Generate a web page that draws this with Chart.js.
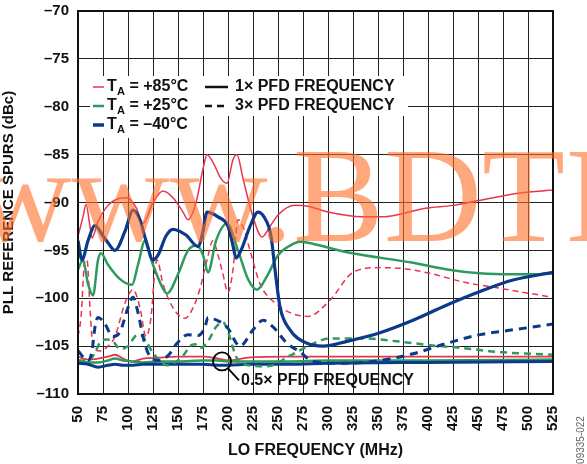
<!DOCTYPE html>
<html>
<head>
<meta charset="utf-8">
<script src="https://cdn.jsdelivr.net/npm/chart.js@4.4.1/dist/chart.umd.min.js"></script>
<style>
  html, body { margin: 0; padding: 0; background: #fff; }
  #wrap { width: 587px; height: 464px; position: relative; }
</style>
</head>
<body>
<div id="wrap"><canvas id="spurChart" width="587" height="464"></canvas></div>
<script>
// LO frequency (MHz) / spur level (dBc)
const freqRed1x = [50, 55, 58, 62, 64, 70, 80, 90, 99, 108, 115, 125, 135, 145, 155, 160, 168, 175, 179, 185, 193, 199, 205, 209, 215, 225, 234, 242, 250, 267, 280, 300, 334, 354, 377, 397, 425, 450, 492, 525];
const spurRed1x = [-93.5, -91.5, -90.2, -92.5, -93.7, -92, -90.3, -89.6, -89.5, -90.5, -92.2, -90, -88.8, -89.5, -91, -91.8, -90, -86.5, -85, -85.8, -87.5, -88, -85.5, -85, -87.5, -91.5, -93.6, -92.5, -91.3, -90.3, -90.4, -91, -91.5, -91.5, -91.1, -90.6, -90.3, -89.8, -89, -88.7];

const freqGreen1x = [50, 55, 60, 65, 70, 73, 80, 92, 104, 110, 117, 125, 135, 139, 150, 160, 169, 175, 180, 188, 199, 210, 220, 229, 240, 250, 262, 272, 280, 319, 385, 419, 452, 485, 505, 525];
const spurGreen1x = [-97, -96, -98.5, -99.7, -96, -95.3, -96.5, -98, -98.6, -96.5, -94, -96.5, -99, -99.5, -97.5, -95, -94.5, -95.5, -97.3, -94, -92.2, -95, -98, -99.1, -97.5, -95.5, -94.5, -94.1, -94.2, -95.2, -96.3, -97, -97.4, -97.5, -97.5, -97.4];

const freqBlue1x = [50, 54, 60, 67, 75, 80, 87, 97, 105, 112, 118, 125, 130, 138, 145, 158, 170, 175, 179, 190, 200, 205, 208, 213, 222, 230, 236, 243, 247, 252, 262, 279, 295, 319, 352, 385, 419, 452, 485, 525];
const spurBlue1x = [-94, -96, -94, -92.4, -93.5, -94.2, -95, -93, -90.8, -91.8, -94, -96, -95.5, -93.5, -92.8, -93.4, -94.6, -93, -91, -91.5, -92.5, -94.5, -95.8, -95, -92.5, -91, -91.5, -93.5, -97, -100.9, -103.3, -104.7, -105, -104.5, -103.6, -102.3, -100.7, -99.3, -98.1, -97.3];

const freqRed3x = [50, 53, 57, 59, 62, 65, 72, 80, 87, 97, 105, 112, 118, 123, 127, 129, 135, 145, 157, 165, 172, 179, 185, 190, 195, 200, 205, 210, 215, 222, 232, 247, 262, 280, 302, 325, 352, 375, 402, 435, 469, 502, 525];
const spurRed3x = [-104, -102, -96, -96, -101, -105, -105.5, -105, -104, -100.5, -99.1, -101, -104, -102, -97, -96, -98.5, -101, -102.1, -101, -99, -96, -94, -95.5, -97.5, -99.4, -97, -91.8, -92.5, -95, -98.5, -100.5, -101.5, -101.9, -100.2, -97.3, -96.8, -96.9, -97.4, -98.3, -98.9, -99.5, -99.9];

const freqGreen3x = [50, 60, 67, 72, 78, 85, 92, 100, 107, 112, 118, 125, 139, 155, 162, 167, 172, 180, 188, 195, 200, 206, 212, 240, 262, 280, 302, 335, 369, 402, 435, 469, 525];
const spurGreen3x = [-106.5, -106.5, -105.7, -104.6, -104.3, -104.5, -105.3, -105, -104, -103.8, -104.5, -105.7, -107, -106, -105, -104.8, -105.2, -104.5, -103, -102.5, -103.5, -105.5, -106.8, -107.1, -106, -105, -104.2, -104.2, -104.5, -104.9, -105.2, -105.6, -105.9];

const freqBlue3x = [50, 60, 64, 67, 70, 76, 85, 92, 100, 105, 110, 115, 120, 130, 140, 149, 160, 170, 177, 180, 189, 199, 212, 225, 235, 245, 259, 272, 285, 319, 352, 385, 419, 452, 485, 525];
const spurBlue3x = [-105.5, -106.5, -105.5, -103, -102, -102.5, -104, -103.5, -101, -99.9, -101.5, -104, -105.7, -106.5, -106, -104.7, -103.8, -103.9, -103, -102, -102.3, -103, -105, -103.3, -102.3, -103, -104.7, -105.6, -106.6, -106.8, -106.5, -105.8, -104.7, -103.8, -103.3, -102.7];

const freqHalf = [50, 60, 70, 80, 87, 95, 105, 115, 130, 150, 175, 190, 200, 220, 260, 300, 400, 525];
const spurRedHalf = [-106.1, -106.4, -106.3, -106.1, -105.9, -106.3, -106.6, -106.3, -106.2, -106.1, -106.1, -106.3, -106.5, -106.2, -106.1, -106.1, -106.1, -106.1];
const spurGreenHalf = [-106.5, -106.7, -106.7, -106.5, -106.3, -106.5, -106.6, -106.7, -106.6, -106.6, -106.5, -106.5, -106.6, -106.6, -106.6, -106.5, -106.5, -106.4];
const spurBlueHalf = [-106.8, -106.9, -107.2, -107.0, -106.9, -107.0, -107.0, -106.9, -106.9, -106.9, -106.9, -107.0, -107.0, -106.9, -106.9, -106.8, -106.7, -106.6];

const xTicks = [50, 75, 100, 125, 150, 175, 200, 225, 250, 275, 300, 325, 350, 375, 400, 425, 450, 475, 500, 525];
const yTicks = [-110, -105, -100, -95, -90, -85, -80, -75, -70];

const RED = '#e8354f';
const GREEN = '#2f9a5d';
const BLUE = '#0c3a8a';

function pts(f, v) {
    return f.map((x, i) => ({ x: x, y: v[i] }));
}

function line(data, color, width, dash) {
    return {
        data: data,
        borderColor: color,
        borderWidth: width,
        borderDash: dash || [],
        pointRadius: 0,
        fill: false,
        cubicInterpolationMode: 'monotone'
    };
}

const boldFont = '"Liberation Sans", Arial, sans-serif';

// frame, legend, annotation and watermark drawn by hand
const extras = {
    id: 'extras',
    afterDatasetsDraw(chart) {
        const ctx = chart.ctx;
        const a = chart.chartArea;
        ctx.save();
        // legend boxes
        ctx.fillStyle = '#fff';
        ctx.fillRect(90, 76, 318, 40);
        ctx.fillRect(90, 116, 112, 22);
        ctx.textBaseline = 'middle';
        const temps = [['+85°C', RED, 1.5], ['+25°C', GREEN, 2.5], ['–40°C', BLUE, 3.5]];
        temps.forEach((t, i) => {
            const y = 87 + i * 19;
            ctx.strokeStyle = t[1];
            ctx.lineWidth = t[2];
            ctx.beginPath();
            ctx.moveTo(93, y);
            ctx.lineTo(104, y);
            ctx.stroke();
            ctx.fillStyle = '#111';
            ctx.font = 'bold 16px ' + boldFont;
            ctx.fillText('T', 107, y);
            ctx.font = 'bold 11px ' + boldFont;
            ctx.fillText('A', 117, y + 5);
            ctx.font = 'bold 16px ' + boldFont;
            ctx.fillText(' = ' + t[0], 125, y);
        });
        ctx.strokeStyle = '#111';
        ctx.lineWidth = 2.5;
        ctx.beginPath();
        ctx.moveTo(205, 87);
        ctx.lineTo(228, 87);
        ctx.stroke();
        ctx.setLineDash([7, 5]);
        ctx.beginPath();
        ctx.moveTo(205, 106);
        ctx.lineTo(228, 106);
        ctx.stroke();
        ctx.setLineDash([]);
        ctx.fillStyle = '#111';
        ctx.font = 'bold 16px ' + boldFont;
        ctx.fillText('1× PFD FREQUENCY', 235, 87);
        ctx.fillText('3× PFD FREQUENCY', 235, 106);

        // 0.5x annotation
        const xs = chart.scales.x, ys = chart.scales.y;
        const cx = xs.getPixelForValue(194), cy = ys.getPixelForValue(-106.6);
        ctx.strokeStyle = '#000';
        ctx.lineWidth = 1.8;
        ctx.beginPath();
        ctx.arc(cx, cy, 9, 0, Math.PI * 2);
        ctx.stroke();
        ctx.beginPath();
        ctx.moveTo(cx + 6, cy + 7);
        ctx.lineTo(cx + 17, cy + 19);
        ctx.stroke();
        ctx.fillStyle = '#111';
        ctx.fillText('0.5× PFD FREQUENCY', cx + 19, cy + 19);

        // plot frame
        ctx.strokeStyle = '#111';
        ctx.lineWidth = 2;
        ctx.strokeRect(a.left, a.top, a.right - a.left, a.bottom - a.top);
        ctx.restore();
    },
    afterDraw(chart) {
        const ctx = chart.ctx;
        ctx.save();
        // figure code
        ctx.translate(581, 440);
        ctx.rotate(-Math.PI / 2);
        ctx.font = '10px Arial, "Liberation Sans", sans-serif';
        ctx.fillStyle = '#666';
        ctx.textAlign = 'center';
        ctx.textBaseline = 'middle';
        ctx.fillText('09335-022', 0, 0);
        ctx.restore();

        // watermark
        ctx.save();
        ctx.font = '136px "Liberation Serif", "Times New Roman", serif';
        ctx.fillStyle = 'rgba(255, 110, 40, 0.6)';
        ctx.textBaseline = 'alphabetic';
        const pre = ctx.measureText('www.').width;
        ctx.fillText('www.BDTIC', 293 - pre, 241);
        ctx.restore();
    }
};

const ctx = document.getElementById('spurChart').getContext('2d');
const spurChart = new Chart(ctx, {
    type: 'line',
    data: {
        datasets: [
            line(pts(freqBlue1x, spurBlue1x), BLUE, 3.2),
            line(pts(freqGreen1x, spurGreen1x), GREEN, 2.5),
            line(pts(freqRed1x, spurRed1x), RED, 1.5),
            line(pts(freqBlue3x, spurBlue3x), BLUE, 3, [8, 6]),
            line(pts(freqGreen3x, spurGreen3x), GREEN, 2.5, [7, 5]),
            line(pts(freqRed3x, spurRed3x), RED, 1.5, [6, 4]),
            line(pts(freqHalf, spurBlueHalf), BLUE, 3),
            line(pts(freqHalf, spurGreenHalf), GREEN, 2.5),
            line(pts(freqHalf, spurRedHalf), RED, 1.8)
        ]
    },
    options: {
        responsive: false,
        animation: false,
        events: [],
        layout: { padding: { top: 11, right: 34, left: 0, bottom: 0 } },
        plugins: { legend: { display: false }, tooltip: { enabled: false } },
        scales: {
            x: {
                type: 'linear',
                min: 50,
                max: 525,
                afterBuildTicks: s => { s.ticks = xTicks.map(v => ({ value: v })); },
                afterFit: s => { s.height = 70; s.paddingLeft = 0; s.paddingRight = 0; },
                grid: { color: '#222', lineWidth: 1, drawTicks: false },
                border: { display: false },
                ticks: {
                    color: '#111',
                    font: { family: boldFont, size: 15, weight: 'bold' },
                    minRotation: 90,
                    maxRotation: 90,
                    padding: 12
                },
                title: {
                    display: true,
                    text: 'LO FREQUENCY (MHz)',
                    color: '#111',
                    font: { family: boldFont, size: 16, weight: 'bold' },
                    padding: { top: 6, bottom: 4 }
                }
            },
            y: {
                min: -110,
                max: -70,
                afterBuildTicks: s => { s.ticks = yTicks.map(v => ({ value: v })); },
                afterFit: s => { s.width = 78; s.paddingTop = 0; s.paddingBottom = 0; },
                grid: { color: '#222', lineWidth: 1, drawTicks: false },
                border: { display: false },
                ticks: {
                    color: '#111',
                    font: { family: boldFont, size: 15, weight: 'bold' },
                    padding: 9,
                    callback: v => '–' + Math.abs(v)
                },
                title: {
                    display: true,
                    text: 'PLL REFERENCE SPURS (dBc)',
                    color: '#111',
                    font: { family: boldFont, size: 15, weight: 'bold' },
                    padding: { top: 0, bottom: 1 }
                }
            }
        }
    },
    plugins: [extras]
});
</script>
</body>
</html>
